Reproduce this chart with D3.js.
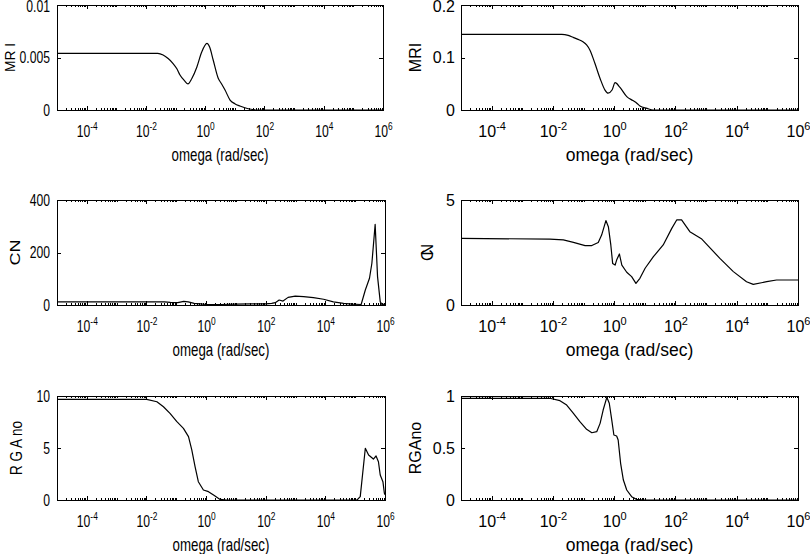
<!DOCTYPE html>
<html><head><meta charset="utf-8">
<script src="https://cdn.jsdelivr.net/npm/d3@7"></script>
<style>
html,body{margin:0;padding:0;background:#fff;}
svg{display:block;font-family:"Liberation Sans",Arial,Helvetica,sans-serif;}
</style></head><body>
<svg id="chart" width="810" height="554"></svg>
<script>
// ---- shared axis data ----
const xDomainExp = [-5, 6];
const xTickExponents = [-4, -2, 0, 2, 4, 6];
const xLabelText = "omega (rad/sec)";

// ---- panel 1: MR I (left, top) ----
const mriLeftLogW = [-5, -1.6, -1.42, -1.25, -1.09, -0.95, -0.85, -0.7, -0.58, -0.45, -0.28, -0.12, 0.06, 0.15, 0.27, 0.44, 0.55, 0.67, 0.84, 1.0, 1.17, 1.45, 1.75, 6];
const mriLeftVal  = [0.0054, 0.0054, 0.00524, 0.0049, 0.00445, 0.0039, 0.00333, 0.0028, 0.00248, 0.0030, 0.0041, 0.0055, 0.00635, 0.0060, 0.00476, 0.00302, 0.0025, 0.0019, 0.00095, 0.0006, 0.00038, 0.00012, 0, 0];
const mriLeftYTicks = [0, 0.005, 0.01];
const mriLeftYLabels = ["0", "0.005", "0.01"];

// ---- panel 2: MRI (right, top) ----
const mriRightLogW = [-5, -1.71, -1.5, -1.345, -1.2, -1.02, -0.9, -0.79, -0.63, -0.46, -0.3, -0.2, -0.07, 0.03, 0.19, 0.42, 0.61, 0.74, 0.84, 1.07, 1.27, 6];
const mriRightVal  = [0.144, 0.144, 0.142, 0.1385, 0.135, 0.130, 0.124, 0.114, 0.089, 0.060, 0.038, 0.032, 0.038, 0.052, 0.043, 0.025, 0.018, 0.013, 0.0076, 0.0032, 0, 0];
const mriRightYTicks = [0, 0.1, 0.2];
const mriRightYLabels = ["0", "0.1", "0.2"];

// ---- panel 3: CN (left, middle) ----
const cnLeftLogW = [-5, -1.4, -1.2, -0.95, -0.75, -0.6, -0.4, -0.2, 0, 0.5, 1.0, 1.5, 2.0, 2.2, 2.32, 2.45, 2.58, 2.75, 2.99, 3.27, 3.6, 3.94, 4.27, 4.61, 4.9, 5.2, 5.34, 5.48, 5.56, 5.67, 5.75, 5.84, 5.9, 6];
const cnLeftVal  = [12, 12, 10, 9, 14, 12, 6, 4, 2, 2, 3, 4, 4, 6, 9, 19, 15, 29, 34, 32, 28, 22, 12, 6, 3, 2, 57, 102, 159, 307, 108, 13, 1, 4];
const cnLeftYTicks = [0, 200, 400];
const cnLeftYLabels = ["0", "200", "400"];

// ---- panel 4: CN (right, middle) ----
const cnRightLogW = [-5, -2.1, -1.66, -1.33, -0.95, -0.73, -0.52, -0.41, -0.27, -0.19, -0.11, -0.05, 0.03, 0.08, 0.17, 0.25, 0.41, 0.57, 0.71, 0.84, 1.01, 1.28, 1.6, 1.88, 2.04, 2.2, 2.47, 2.86, 3.45, 3.89, 4.32, 4.54, 4.98, 5.3, 6];
const cnRightVal  = [3.17, 3.14, 3.10, 2.98, 2.83, 2.83, 2.98, 3.33, 4.02, 3.73, 2.86, 1.98, 1.90, 2.14, 2.43, 1.90, 1.56, 1.35, 1.03, 1.27, 1.75, 2.30, 2.86, 3.65, 4.05, 4.05, 3.49, 3.14, 2.22, 1.59, 1.11, 0.98, 1.11, 1.19, 1.19];
const cnRightYTicks = [0, 5];
const cnRightYLabels = ["0", "5"];

// ---- panel 5: R G A no (left, bottom) ----
const rgaLeftLogW = [-5, -1.99, -1.65, -1.43, -1.21, -0.98, -0.76, -0.59, -0.48, -0.37, -0.26, -0.09, 0.08, 0.25, 0.47, 0.69, 5.06, 5.17, 5.34, 5.45, 5.61, 5.70, 5.78, 5.84, 5.93, 5.98, 6];
const rgaLeftVal  = [9.68, 9.68, 9.45, 8.97, 8.33, 7.53, 6.89, 6.09, 4.81, 3.21, 1.76, 0.96, 0.80, 0.48, 0.06, 0, 0, 0.32, 4.97, 4.33, 3.94, 4.23, 3.68, 2.40, 1.76, 0.64, 0.5];
const rgaLeftYTicks = [0, 5, 10];
const rgaLeftYLabels = ["0", "5", "10"];

// ---- panel 6: RGAno (right, bottom) ----
const rgaRightLogW = [-5, -2.1, -1.77, -1.55, -1.33, -1.12, -0.9, -0.73, -0.57, -0.46, -0.36, -0.24, -0.16, -0.08, -0.01, 0.08, 0.13, 0.21, 0.30, 0.41, 0.57, 0.73, 0.95, 6];
const rgaRightVal  = [0.978, 0.978, 0.955, 0.913, 0.833, 0.753, 0.68, 0.647, 0.657, 0.737, 0.865, 0.987, 0.93, 0.77, 0.625, 0.615, 0.577, 0.353, 0.192, 0.096, 0.032, 0.006, 0, 0];
const rgaRightYTicks = [0, 0.5, 1];
const rgaRightYLabels = ["0", "0.5", "1"];

// ---- panel assembly ----
const panels = [
  {w: mriLeftLogW, v: mriLeftVal, yt: mriLeftYTicks, yl: mriLeftYLabels, ylabel: "MR I", curve: "smooth",
   L: {left: 57, right: 383, top: 5, bottom: 110, sq: 0.76, ylabX: 10, ylabLen: 29, ylabFont: 15}},
  {w: mriRightLogW, v: mriRightVal, yt: mriRightYTicks, yl: mriRightYLabels, ylabel: "MRI", curve: "smooth",
   L: {left: 461, right: 798, top: 5, bottom: 110, sq: 1, ylabX: 415, ylabLen: 0, ylabFont: 16}},
  {w: cnLeftLogW, v: cnLeftVal, yt: cnLeftYTicks, yl: cnLeftYLabels, ylabel: "CN", curve: "linear",
   L: {left: 57, right: 385, top: 200, bottom: 305, sq: 0.76, ylabX: 15, ylabLen: 26, ylabFont: 15}},
  {w: cnRightLogW, v: cnRightVal, yt: cnRightYTicks, yl: cnRightYLabels, ylabel: "CN", curve: "linear",
   L: {left: 461, right: 798, top: 200, bottom: 305, sq: 1, ylabX: 427, ylabLen: 17, spacingOnly: true, ylabFont: 16}},
  {w: rgaLeftLogW, v: rgaLeftVal, yt: rgaLeftYTicks, yl: rgaLeftYLabels, ylabel: "R G A no", curve: "linear",
   L: {left: 57, right: 385, top: 396, bottom: 500, sq: 0.76, ylabX: 16, ylabLen: 54, ylabFont: 16}},
  {w: rgaRightLogW, v: rgaRightVal, yt: rgaRightYTicks, yl: rgaRightYLabels, ylabel: "RGAno", curve: "linear",
   L: {left: 461, right: 798, top: 396, bottom: 500, sq: 1, ylabX: 415, ylabLen: 0, ylabFont: 16}}
];

const svg = d3.select("#chart");
const majorLen = 4, minorLen = 2;
const tickFont = 16, supFont = 11, labelFont = 17.5;

const majorVals = xTickExponents.map(e => Math.pow(10, e));
const minorVals = [];
for (let e = xDomainExp[0]; e < xDomainExp[1]; e++) {
  for (let m = 1; m < 10; m++) {
    if (m === 1 && xTickExponents.includes(e)) continue;
    minorVals.push(m * Math.pow(10, e));
  }
}

function styleAxis(sel) {
  sel.select(".domain").remove();
  sel.selectAll("line").attr("stroke", "#000").attr("shape-rendering", "crispEdges");
  sel.attr("font-family", null).attr("font-size", null);
}

panels.forEach(p => {
  const L = p.L;
  const g = svg.append("g");
  const x = d3.scaleLog().domain(xDomainExp.map(e => Math.pow(10, e))).range([L.left, L.right]);
  const y = d3.scaleLinear().domain([p.yt[0], p.yt[p.yt.length - 1]]).range([L.bottom, L.top]);

  // minor x ticks (bottom & top)
  g.append("g").attr("transform", `translate(0,${L.bottom})`)
    .call(d3.axisBottom(x).tickValues(minorVals).tickSize(-minorLen).tickFormat(""))
    .call(styleAxis);
  g.append("g").attr("transform", `translate(0,${L.top})`)
    .call(d3.axisTop(x).tickValues(minorVals).tickSize(-minorLen).tickFormat(""))
    .call(styleAxis);
  // major x ticks with labels
  const bx = g.append("g").attr("transform", `translate(0,${L.bottom})`)
    .call(d3.axisBottom(x).tickValues(majorVals).tickSize(-majorLen).tickFormat(""))
    .call(styleAxis);
  bx.selectAll(".tick text").each(function(d) {
    const t = d3.select(this);
    const e = Math.round(Math.log10(d));
    t.attr("y", 27).attr("dy", null).attr("fill", "#000")
      .attr("font-size", tickFont).attr("text-anchor", "middle")
      .attr("transform", L.sq !== 1 ? `scale(${L.sq},1)` : null);
    t.append("tspan").text("10");
    t.append("tspan").attr("font-size", supFont).attr("dy", -7).text(String(e));
  });
  g.append("g").attr("transform", `translate(0,${L.top})`)
    .call(d3.axisTop(x).tickValues(majorVals).tickSize(-majorLen).tickFormat(""))
    .call(styleAxis);

  // y ticks
  const ly = g.append("g").attr("transform", `translate(${L.left},0)`)
    .call(d3.axisLeft(y).tickValues(p.yt).tickSize(-majorLen).tickPadding(L.sq !== 1 ? 9.2 : 6)
      .tickFormat((d, i) => p.yl[i]))
    .call(styleAxis);
  ly.selectAll(".tick text").attr("fill", "#000").attr("font-size", tickFont)
    .attr("transform", L.sq !== 1 ? `scale(${L.sq},1)` : null)
    .attr("dy", d => (y(d) < 8 ? "0.42em" : "0.32em"));
  g.append("g").attr("transform", `translate(${L.right},0)`)
    .call(d3.axisRight(y).tickValues(p.yt).tickSize(-majorLen).tickFormat(""))
    .call(styleAxis);

  // box
  g.append("rect").attr("x", L.left).attr("y", L.top)
    .attr("width", L.right - L.left).attr("height", L.bottom - L.top)
    .attr("fill", "none").attr("stroke", "#000").attr("stroke-width", 1)
    .attr("shape-rendering", "crispEdges");

  // data line
  const pts = p.w.map((w, i) => ({w: Math.pow(10, w), v: p.v[i]}));
  const line = d3.line().x(d => x(d.w)).y(d => y(d.v))
    .curve(p.curve === "smooth" ? d3.curveMonotoneX : d3.curveLinear);
  g.append("path").datum(pts).attr("d", line)
    .attr("fill", "none").attr("stroke", "#000").attr("stroke-width", 1.2)
    .attr("stroke-linejoin", "round");

  // x label
  const cx = (L.left + L.right) / 2;
  g.append("text").attr("transform", `translate(${cx},${L.bottom + 51}) scale(${L.sq},1)`)
    .attr("text-anchor", "middle").attr("font-size", labelFont).attr("fill", "#000")
    .text(xLabelText);

  // y label
  const cy = (L.top + L.bottom) / 2;
  const yl = g.append("text")
    .attr("transform", `translate(${L.ylabX},${cy}) rotate(-90)`)
    .attr("text-anchor", "middle").attr("dy", "0.35em")
    .attr("font-size", L.ylabFont).attr("fill", "#000")
    .text(p.ylabel);
  if (L.ylabLen) {
    yl.attr("textLength", L.ylabLen).attr("lengthAdjust", L.spacingOnly ? "spacing" : "spacingAndGlyphs");
  }
});
</script>
</body></html>
